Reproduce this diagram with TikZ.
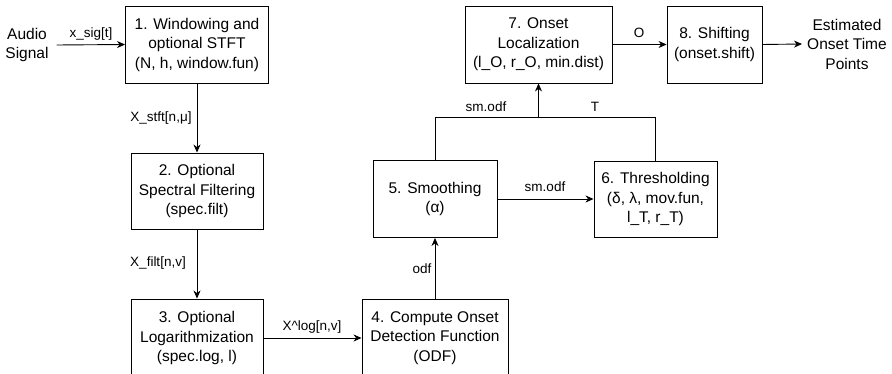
\documentclass[tikz,border=0pt]{standalone}
\usepackage{fontspec}
\setmainfont{Liberation Sans}
\usetikzlibrary{arrows.meta}
\begin{document}
\begin{tikzpicture}[x=1pt,y=-1pt,
  box/.style={draw=black, line width=0.9pt, align=center, inner sep=0pt,
    font=\fontsize{15.5}{19.5}\selectfont},
  txt/.style={align=center, inner sep=0pt, font=\fontsize{15.5}{19.5}\selectfont},
  lbl/.style={inner sep=0pt, font=\fontsize{13.5}{16}\selectfont},
  arr/.style={line width=0.9pt, -{Stealth[length=8pt,width=7pt,inset=2.5pt]}},
  ln/.style={line width=0.9pt}]
\useasboundingbox (0,0) rectangle (892,374);
\clip (0,0) rectangle (892,374);
\node[txt, inner xsep=8pt] (audio) at (27,45) {Audio\\Signal};
\node[box, minimum width=143pt, minimum height=77pt] (b1) at (197,44.5) {1. Windowing and\\optional STFT\\(N, h, window.fun)};
\node[box, minimum width=132pt, minimum height=76pt] (b2) at (197,191) {2. Optional\\Spectral Filtering\\(spec.filt)};
\node[box, minimum width=132pt, minimum height=78pt] (b3) at (197,338) {3. Optional\\Logarithmization\\(spec.log, l)};
\node[box, minimum width=146pt, minimum height=78pt] (b4) at (435,338) {4. Compute Onset\\Detection Function\\(ODF)};
\node[box, minimum width=124pt, minimum height=77pt] (b5) at (435,199) {5. Smoothing\\(α)};
\node[box, minimum width=123pt, minimum height=76pt] (b6) at (655.5,199) {6. Thresholding\\(δ, λ, mov.fun,\\l\_T, r\_T)};
\node[box, minimum width=147pt, minimum height=77pt] (b7) at (538.5,44.5) {7. Onset\\Localization\\(l\_O, r\_O, min.dist)};
\node[box, minimum width=95pt, minimum height=77pt] (b8) at (714.5,44.5) {8. Shifting\\(onset.shift)};
\node[txt, inner xsep=5pt] (est) at (847,44) {Estimated\\Onset Time\\Points};
\coordinate (j) at (538.5,117);

\draw[arr] (audio.east) -- (b1.west) node[lbl, midway, above=4pt] {x\_sig[t]};
\draw[arr] (b1.south) -- (b2.north);
\node[lbl] (l1) at (161,118) {X\_stft[n,μ]};
\draw[arr] (b2.south) -- (b3.north);
\node[lbl] (l2) at (158,263) {X\_filt[n,v]};
\draw[arr] (b3.east) -- (b4.west);
\node[lbl] (l3) at (312,327) {X\textasciicircum log[n,v]};
\draw[arr] (b4.north) -- (b5.south);
\node[lbl] (l4) at (422,269) {odf};
\draw[arr] (b5.east) -- (b6.west);
\node[lbl] (l5) at (545,187) {sm.odf};
\draw[ln] (b5.north) |- (j);
\draw[ln] (b6.north) |- (j);
\draw[arr] (j) -- (b7.south);
\node[lbl] (l6) at (486,107) {sm.odf};
\node[lbl] (l7) at (595,107) {T};
\draw[arr] (b7.east) -- (b8.west);
\node[lbl] (l8) at (639,33) {O};
\draw[arr] (b8.east) -- (est.west);
\end{tikzpicture}
\end{document}
